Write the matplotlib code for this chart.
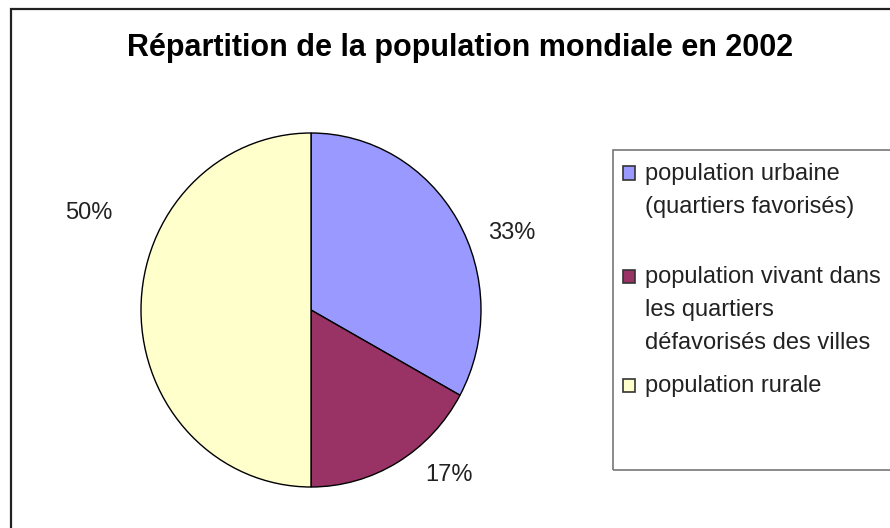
import matplotlib.pyplot as plt
from matplotlib.patches import Rectangle

plt.rcParams['font.family'] = ['Liberation Sans', 'DejaVu Sans']

# data
categories = ['population urbaine\n(quartiers favorisés)',
              'population vivant dans\nles quartiers\ndéfavorisés des villes',
              'population rurale']
values = [33, 17, 50]
colors = ['#9999ff', '#993366', '#ffffcc']
# where the excel-style percent labels sit (axes data coords)
label_pos = [(1.18, 0.435), (0.81, -0.93), (-1.31, 0.55)]

W, H = 890, 528
fig = plt.figure(figsize=(W / 100, H / 100), dpi=100)

# outer chart frame (right/bottom edges run off the picture)
fig.patches.append(Rectangle((11 / W, -0.1), 1.0, (H - 9) / H + 0.1,
                             transform=fig.transFigure, fill=False,
                             edgecolor='#222222', linewidth=1.6))

fig.text(460 / W, 1 - 48 / H, 'Répartition de la population mondiale en 2002',
         ha='center', va='center', fontsize=22, fontweight='bold')

cx, cy, rx, ry = 311, 310, 170, 177
ax = fig.add_axes([(cx - rx) / W, (H - cy - ry) / H, 2 * rx / W, 2 * ry / H])
wedges, texts = ax.pie(values, colors=colors, startangle=90, counterclock=False,
                       labels=[f'{v}%' for v in values], labeldistance=1.2,
                       wedgeprops=dict(edgecolor='black', linewidth=1.0),
                       textprops=dict(fontsize=17, color='#222222'))
for t, p in zip(texts, label_pos):
    t.set_position(p)
    t.set_ha('center')
    t.set_va('center')
ax.set_xlim(-1, 1)
ax.set_ylim(-1, 1)
ax.set_aspect('auto')
ax.axis('off')

# legend box, cut by right edge
fig.patches.append(Rectangle((613 / W, 1 - 470 / H), 1.0, (470 - 150) / H,
                             transform=fig.transFigure, fill=False,
                             edgecolor='#777777', linewidth=1.2))
first_lines = [173, 276, 385]
for lab, col, y in zip(categories, colors, first_lines):
    fig.patches.append(Rectangle((623 / W, 1 - (y + 6.5) / H), 12 / W, 13 / H,
                                 transform=fig.transFigure, facecolor=col,
                                 edgecolor='#333333', linewidth=1.2))
    fig.text(645 / W, 1 - (y - 10) / H, lab, ha='left', va='top',
             fontsize=17, color='#222222', linespacing=1.66)

fig.savefig('out.png', dpi=100)
